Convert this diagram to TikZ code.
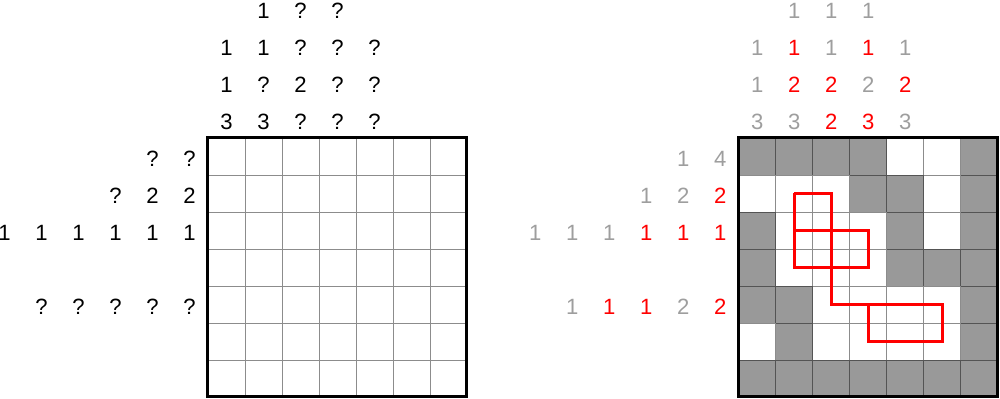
\documentclass[tikz,border=0pt]{standalone}
\usepackage{fontspec}
\setmainfont{Liberation Sans}
\usetikzlibrary{calc}
\definecolor{cluegray}{RGB}{158,158,158}
\definecolor{cellgray}{RGB}{153,153,153}

\begin{document}
\begin{tikzpicture} [font=\fontsize{17}{20}\selectfont]
\useasboundingbox (-5.62,-0.054) rectangle (21.41,10.73);
\coordinate (O) at (0,0);
\coordinate (P) at (14.35,0);
% left puzzle
\draw[black, opacity=.45, line width=.6pt] (O) grid (7,7);
\draw[black, line width=2.3pt] (O) rectangle (7,7);
\foreach \x/\y/\t in {0/0/3,1/0/3,2/0/?,3/0/?,4/0/?, 0/1/1,1/1/?,2/1/2,3/1/?,4/1/?,
  0/2/1,1/2/1,2/2/?,3/2/?,4/2/?, 1/3/1,2/3/?,3/3/?} {
 \node (ltop-\x-\y) at (\x+.5,7.43+\y) {\t};
}
\foreach \x/\y/\t in {0/0/?,1/0/?, 0/1/2,1/1/2,2/1/?, 0/2/1,1/2/1,2/2/1,3/2/1,4/2/1,5/2/1,
  0/4/?,1/4/?,2/4/?,3/4/?,4/4/?} {
 \node (lrow-\x-\y) at (-.5-\x,6.44-\y) {\t};
}
% right puzzle
\begin{scope}[shift={(P)}]
\foreach \r/\c in {0/0,0/1,0/2,0/3,0/6, 1/3,1/4,1/6, 2/0,2/4,2/6, 3/0,3/4,3/5,3/6,
  4/0,4/1,4/6, 5/1,5/6, 6/0,6/1,6/2,6/3,6/4,6/5,6/6} {
 \fill[cellgray] (\c,6-\r) rectangle ++(1,1);
}
\draw[black, opacity=.45, line width=.6pt] (0,0) grid (7,7);
\draw[black, line width=2.3pt] (0,0) rectangle (7,7);
\draw[red, line width=2.3pt, line join=miter] (1.5,5.5)--(2.5,5.5)--(2.5,2.5)--(5.5,2.5)--(5.5,1.5)--(3.5,1.5)--(3.5,2.5);
\draw[red, line width=2.3pt, line join=miter] (1.5,5.5)--(1.5,3.5)--(3.5,3.5)--(3.5,4.5)--(1.5,4.5);
\foreach \x/\y/\t/\c in {0/0/3/cluegray,1/0/3/cluegray,2/0/2/red,3/0/3/red,4/0/3/cluegray,
  0/1/1/cluegray,1/1/2/red,2/1/2/red,3/1/2/cluegray,4/1/2/red,
  0/2/1/cluegray,1/2/1/red,2/2/1/cluegray,3/2/1/red,4/2/1/cluegray,
  1/3/1/cluegray,2/3/1/cluegray,3/3/1/cluegray} {
 \node[text=\c] (rtop-\x-\y) at (\x+.5,7.43+\y) {\t};
}
\foreach \x/\y/\t/\c in {0/0/4/cluegray,1/0/1/cluegray, 0/1/2/red,1/1/2/cluegray,2/1/1/cluegray,
  0/2/1/red,1/2/1/red,2/2/1/red,3/2/1/cluegray,4/2/1/cluegray,5/2/1/cluegray,
  0/4/2/red,1/4/2/cluegray,2/4/1/red,3/4/1/red,4/4/1/cluegray} {
 \node[text=\c] (rrow-\x-\y) at (-.5-\x,6.44-\y) {\t};
}
\end{scope}
\end{tikzpicture}
\end{document}
